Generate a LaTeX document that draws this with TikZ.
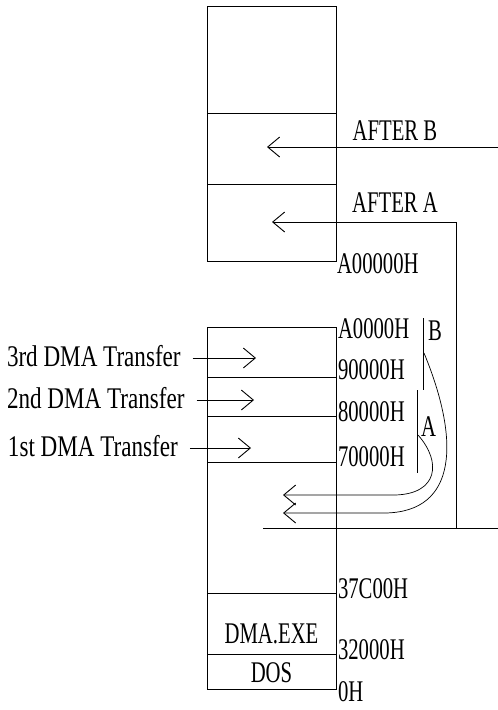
\documentclass[tikz,border=0pt]{standalone}
\usepackage{fontspec}
\setmainfont{Liberation Serif}[FakeStretch=0.69]
\newfontfamily\widefont{Liberation Serif}[FakeStretch=0.77]
\usetikzlibrary{arrows.meta, positioning}

\begin{document}
\begin{tikzpicture}[
    x=1pt, y=-1pt,
    line width=1pt,
    every node/.style={inner sep=0pt, outer sep=0pt},
    cell/.style={draw, anchor=north west, minimum width=129pt},
    addr/.style={font=\fontsize{30}{32}\selectfont, anchor=west},
    txt/.style={font=\fontsize{30}{32}\selectfont},
    side/.style={font=\widefont\fontsize{30}{32}\selectfont, anchor=west},
    barb/.style={-{Straight Barb[length=12pt, width=20pt, line width=0.9pt]}},
    curve/.style={line width=0.7pt}
]
\useasboundingbox (0,0) rectangle (498,710);

\node[cell, minimum height=107pt] (freeT) at (207,6) {};
\node[cell, minimum height=71pt] (bufB) at (207,113) {};
\node[cell, minimum height=77pt] (bufA) at (207,184) {};
\node[addr] (aTop) at (337,264) {A00000H};

\node[cell, minimum height=50pt] (blk3) at (207,327) {};
\node[cell, minimum height=39pt] (blk2) at (207,377) {};
\node[cell, minimum height=46pt] (blk1) at (207,416) {};
\node[cell, minimum height=131pt] (blk0) at (207,462) {};
\node[cell, minimum height=61pt] (prog) at (207,593) {};
\node[cell, minimum height=35pt] (dos) at (207,654) {};
\node[txt] (progTxt) at (271.5,634) {DMA.EXE};
\node[txt] (dosTxt) at (271.5,673) {DOS};

\node[addr] (a4) at (338,329) {A0000H};
\node[addr] (a3) at (338,370) {90000H};
\node[addr] (a2) at (338,412) {80000H};
\node[addr] (a1) at (338,457) {70000H};
\node[addr] (a0) at (338,589) {37C00H};
\node[addr] (aP) at (338,650) {32000H};
\node[addr] (aD) at (338,692) {0H};

\node[txt] (afterB) at (395,131) {AFTER B};
\node[txt] (afterA) at (395,203) {AFTER A};
\coordinate (bEnd) at (498,147);
\coordinate (bTip) at (267,147);
\coordinate (aBase) at (456,528);
\coordinate (aTip) at (272,222);
\coordinate (baseL) at (263,528);
\coordinate (baseR) at (498,528);
\draw[barb] (bEnd) -- (bTip);
\draw[barb] (aBase) |- (aTip);
\draw (baseL) -- (baseR);

\node[side] (t3) at (7,356) {3rd DMA Transfer};
\node[side] (t2) at (7,398) {2nd DMA Transfer};
\node[side] (t1) at (8,446) {1st DMA Transfer};
\coordinate (h3) at (256,358);
\coordinate (h2) at (254,400);
\coordinate (h1) at (251,448);
\draw[barb] ([xshift=12pt]t3.east |- h3) -- (h3);
\draw[barb] ([xshift=12pt]t2.east |- h2) -- (h2);
\draw[barb] ([xshift=12pt]t1.east |- h1) -- (h1);

\coordinate (brBtop) at (423,318);
\coordinate (brBbot) at (423,390);
\coordinate (brAtop) at (417,390);
\coordinate (brAbot) at (417,473);
\draw[curve] (brBtop) -- (brBbot);
\draw[curve] (brAtop) -- (brAbot);
\node[txt, anchor=west] (lblB) at (428,331) {B};
\node[txt, anchor=west] (lblA) at (421,427) {A};

\coordinate (cA) at (418,435);
\coordinate (tipA) at (283,495);
\coordinate (cB) at (424,353);
\coordinate (tipB) at (283,513);
\draw[curve, barb] (cA) .. controls (442,462) and (438,494) .. (395,495) -- (tipA);
\draw[curve, barb] (cB) .. controls (460,440) and (458,512) .. (385,513) -- (tipB);
\end{tikzpicture}
\end{document}
